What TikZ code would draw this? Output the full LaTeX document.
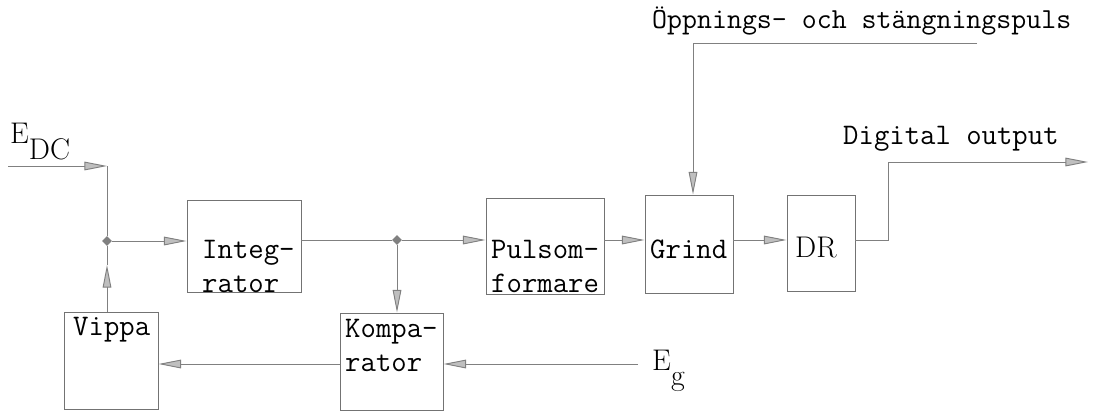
\documentclass[tikz,border=0pt]{standalone}
\usepackage{fontspec}
\usepackage{tikz}
\usetikzlibrary{arrows.meta,shapes.geometric}

\begin{document}
\begin{tikzpicture}[
  x=0.03cm, y=-0.03cm,
  blk/.style={draw=black!55, line width=0.8pt, inner sep=0pt},
  txt/.style={font=\fontsize{25.5}{29}\selectfont\ttfamily, inner sep=0pt, align=left},
  sym/.style={font=\fontsize{25.5}{29}\selectfont\rmfamily, inner sep=0pt},
  wire/.style={draw=black!50, line width=0.8pt},
  arr/.style={wire, -{Triangle[length=0.68cm, width=0.26cm, fill=black!25]}},
  dot/.style={diamond, fill=black!50, inner sep=0pt, minimum size=0.3cm}
]
\useasboundingbox (0,0) rectangle (1105,411);

\node[blk, minimum width=3.42cm, minimum height=2.76cm] (integ) at (244,246) {};
\node[blk, minimum width=2.82cm, minimum height=2.91cm] (vippa) at (111,360.5) {};
\node[blk, minimum width=3.09cm, minimum height=2.91cm] (komp) at (391.5,361.5) {};
\node[blk, minimum width=3.54cm, minimum height=2.88cm] (puls) at (545,246) {};
\node[blk, minimum width=2.64cm, minimum height=2.94cm] (grind) at (689,244) {};
\node[blk, minimum width=2.04cm, minimum height=2.88cm] (dr) at (821,243) {};

\node[txt, anchor=north west] (integ-t) at (202,240) {Integ-\\rator};
\node[txt, anchor=north west] (komp-t) at (345,319) {Kompa-\\rator};
\node[txt, anchor=north west] (vippa-t) at (73,317) {Vippa};
\node[txt, anchor=north west] (puls-t) at (491,240) {Pulsom-\\formare};
\node[txt, anchor=north west] (grind-t) at (650,240) {Grind};
\node[sym, anchor=base west] (dr-t) at (795,257) {DR};

\node[txt, anchor=base west, font=\fontsize{24.8}{29}\selectfont\ttfamily] (puls-lab) at (652,28) {Öppnings- och stängningspuls};
\node[txt, anchor=base west] (out-lab) at (843,144) {Digital output};
\node[sym, anchor=base west] (edc) at (10,143) {E\raisebox{-0.48cm}{DC}};
\node[sym, anchor=base west] (eg) at (652,370) {E\raisebox{-0.45cm}{g}};

\node[dot] (j1) at (107,241) {};
\node[dot] (j2) at (397,240) {};
\coordinate (edcin) at (8,166);
\coordinate (edcturn) at (107,166);
\coordinate (vmid) at (107,265);
\coordinate (egin) at (638,364);
\coordinate (pend) at (977,43);
\coordinate (pturn) at (693,43);
\coordinate (dturn) at (888,162);
\coordinate (dout) at (1088,162);

\draw[arr] (edcin) -- (edcturn);
\draw[wire] (edcturn) -- (j1);
\draw[arr] (j1) -- (j1 -| integ.west);
\draw[arr] (j1 |- vippa.north) -- (vmid);
\draw[wire] (vmid) -- (j1);
\draw[wire] (j2 -| integ.east) -- (j2);
\draw[arr] (j2) -- (j2 -| puls.west);
\draw[arr] (j2) -- (j2 |- komp.north);
\draw[arr] (j2 -| puls.east) -- (j2 -| grind.west);
\draw[arr] (j2 -| grind.east) -- (j2 -| dr.west);
\draw[wire] (j2 -| dr.east) -| (dturn);
\draw[arr] (dturn) -- (dout);
\draw[wire] (pend) -- (pturn);
\draw[arr] (pturn) -- (pturn |- grind.north);
\draw[arr] (egin) -- (egin -| komp.east);
\draw[arr] (egin -| komp.west) -- (egin -| vippa.east);
\end{tikzpicture}
\end{document}
